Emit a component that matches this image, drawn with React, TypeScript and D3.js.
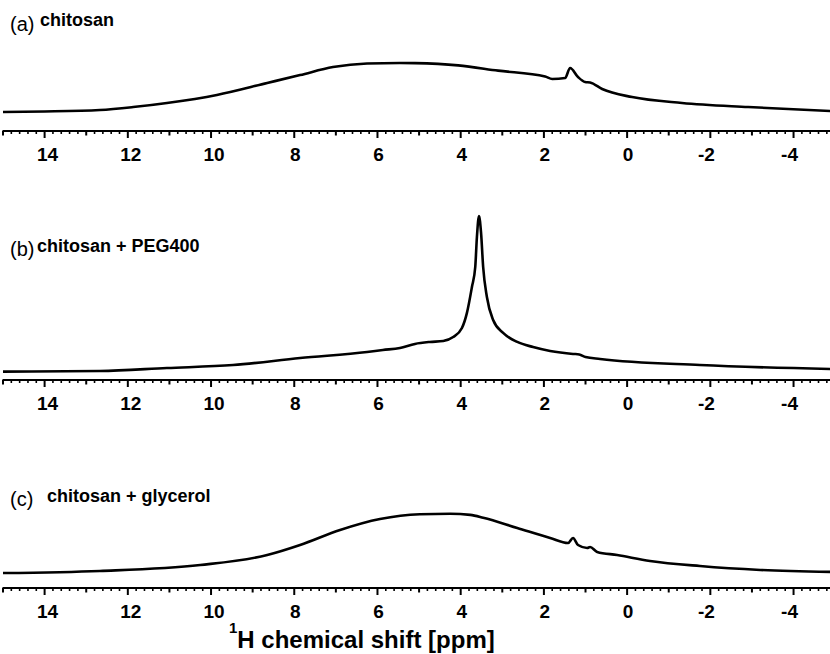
import React, { useRef, useEffect } from 'react';
import * as d3 from 'd3';

// chemical shift (ppm) and intensity (a.u.)
const ppmA = [15.0, 14.0, 12.67, 11.87, 11.06, 9.86, 8.65, 7.86, 7.07, 6.25, 5.46, 5.1, 4.06, 3.1, 1.97, 1.8, 1.49, 1.37, 1.18, 1.01, 0.89, 0.6, -0.12, -1.32, -2.91, -4.9];
const intA = [11.6, 11.9, 12.8, 14.6, 17.1, 22.0, 29.3, 34.1, 39.0, 41.2, 41.5, 41.4, 40.0, 36.8, 33.2, 31.7, 32.3, 38.4, 32.9, 29.9, 29.6, 25.6, 20.7, 17.1, 14.6, 12.2];

const ppmB = [15.0, 12.67, 11.06, 9.47, 7.86, 6.25, 5.87, 5.46, 5.1, 4.74, 4.42, 4.18, 3.97, 3.85, 3.73, 3.65, 3.61, 3.56, 3.51, 3.46, 3.37, 3.22, 2.98, 2.64, 2.26, 1.85, 1.3, 1.15, 1.0, 0.65, -1.75, -4.9];
const intB = [5.1, 5.5, 7.3, 9.1, 13.4, 17.1, 18.3, 19.5, 22.0, 23.2, 23.8, 26.2, 31.7, 40.9, 56.7, 68.9, 87.2, 100, 89.6, 68.9, 50.6, 36.6, 28.7, 23.2, 20.1, 17.7, 15.9, 15.6, 14.0, 12.8, 9.1, 6.7];

const ppmC = [15.0, 12.67, 10.26, 8.65, 7.86, 6.9, 5.94, 4.98, 4.25, 3.77, 3.46, 2.64, 1.85, 1.42, 1.3, 1.18, 0.96, 0.89, 0.72, 0.24, -0.55, -1.75, -3.2, -4.9];
const intC = [9.1, 10.4, 14.0, 20.1, 26.2, 35.4, 42.1, 45.0, 45.3, 44.6, 42.9, 36.6, 30.5, 27.4, 30.5, 26.2, 24.4, 25.0, 22.0, 20.1, 16.5, 13.4, 11.0, 9.8];

const panelLetters = ['(a)', '(b)', '(c)'];
const panelNames = ['chitosan', 'chitosan + PEG400', 'chitosan + glycerol'];
const majorTicks = [14, 12, 10, 8, 6, 4, 2, 0, -2, -4];

const App = () => {
  const svgRef = useRef<SVGSVGElement>(null);

  useEffect(() => {
    const width = 830;
    const height = 654;

    const x = d3.scaleLinear().domain([15, -4.9]).range([3, 831]);

    const panels = [
      { ppm: ppmA, int: intA, axisY: 131, titleY: 31, nameY: 26, nameX: 40 },
      { ppm: ppmB, int: intB, axisY: 380, titleY: 256, nameY: 252, nameX: 37 },
      { ppm: ppmC, int: intC, axisY: 588, titleY: 506, nameY: 502, nameX: 47 },
    ];

    const svg = d3.select(svgRef.current);
    svg.selectAll('*').remove();
    svg
      .attr('width', width)
      .attr('height', height)
      .attr('viewBox', [0, 0, width, height])
      .style('font-family', 'Liberation Sans, Arial, sans-serif');

    svg.append('rect').attr('width', width).attr('height', height).attr('fill', 'white');

    const minor = d3.range(150, -50, -2).map(v => v / 10);

    panels.forEach((p, i) => {
      const y = d3.scaleLinear().domain([0, 100]).range([p.axisY, p.axisY - 164]);
      const g = svg.append('g');

      // spectrum
      const pts = p.ppm.map((v, j) => [v, p.int[j]] as [number, number]);
      const line = d3.line<[number, number]>()
        .x(d => x(d[0]))
        .y(d => y(d[1]))
        .curve(d3.curveMonotoneX);
      g.append('path')
        .datum(pts)
        .attr('d', line)
        .attr('fill', 'none')
        .attr('stroke', 'black')
        .attr('stroke-width', 2.6)
        .attr('stroke-linejoin', 'round');

      // axis line
      g.append('line')
        .attr('x1', x(15) - 0.5).attr('x2', width)
        .attr('y1', p.axisY).attr('y2', p.axisY)
        .attr('stroke', 'black').attr('stroke-width', 2);

      // ticks: major every 2, medium at odd ppm, minor every 0.2
      g.append('g')
        .selectAll('line')
        .data(minor)
        .join('line')
        .attr('x1', d => x(d)).attr('x2', d => x(d))
        .attr('y1', p.axisY)
        .attr('y2', d => {
          const r = Math.round(d * 10);
          if (r % 20 === 0) return p.axisY + 7;
          if (r % 10 === 0) return p.axisY + 4.5;
          return p.axisY + 3;
        })
        .attr('stroke', 'black')
        .attr('stroke-width', d => (Math.round(d * 10) % 10 === 0 ? 2 : 1.6));

      g.append('g')
        .selectAll('text')
        .data(majorTicks)
        .join('text')
        .attr('x', d => x(d))
        .attr('dx', d => (d < 0 ? -4 : d >= 10 ? 3 : 1))
        .attr('y', p.axisY + 30)
        .attr('text-anchor', 'middle')
        .attr('font-size', 19)
        .attr('font-weight', 'bold')
        .attr('fill', 'black')
        .text(d => String(d));

      // panel titles
      svg.append('text')
        .attr('x', 10).attr('y', p.titleY)
        .attr('font-size', 20)
        .text(panelLetters[i]);
      svg.append('text')
        .attr('x', p.nameX).attr('y', p.nameY)
        .attr('font-size', 18)
        .attr('font-weight', 'bold')
        .text(panelNames[i]);
    });

    // x axis title
    const t = svg.append('text')
      .attr('x', 229).attr('y', 648)
      .attr('font-size', 24)
      .attr('font-weight', 'bold');
    t.append('tspan').attr('font-size', 15).attr('dy', -15).text('1');
    t.append('tspan').attr('dy', 15).text('H chemical shift [ppm]');
  }, []);

  return (
    <div style={{ position: 'absolute', left: 0, top: 0 }}>
      <svg ref={svgRef} style={{ display: 'block' }}></svg>
    </div>
  );
};

export default App;
